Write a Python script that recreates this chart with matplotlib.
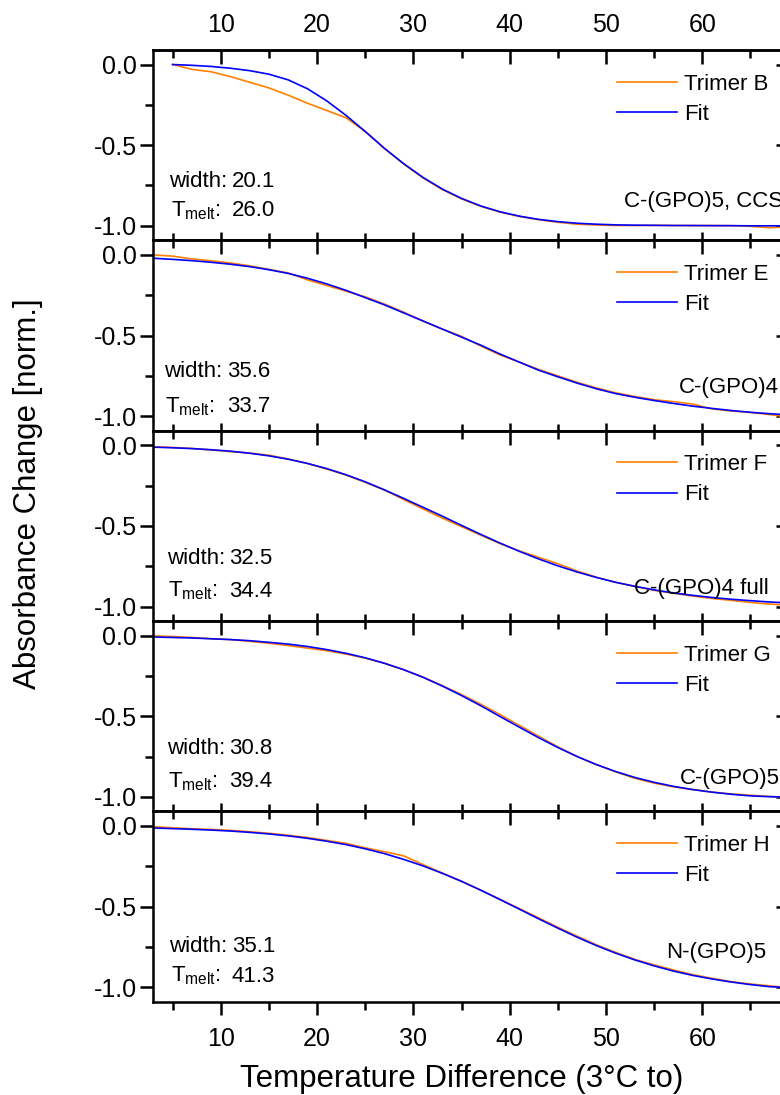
import matplotlib
matplotlib.use("Agg")
from matplotlib import pyplot as plt
from matplotlib.ticker import MultipleLocator, FixedLocator, NullFormatter

plt.rcParams['font.family'] = ['Liberation Sans', 'DejaVu Sans']
plt.rcParams['mathtext.default'] = 'regular'

# temperature grid the curves were read on (3, 5, ..., 69)
temp = list(range(3, 70, 2))

# Trimer B starts at 5
trimer_b = [0.0, -0.03, -0.045, -0.075, -0.11, -0.145, -0.19, -0.24, -0.285, -0.33,
            -0.415, -0.52, -0.617, -0.703, -0.775, -0.833, -0.879, -0.915, -0.942, -0.962,
            -0.978, -0.99, -0.995, -0.998, -0.998, -0.997, -0.998, -0.999, -0.998, -0.999,
            -1.003, -1.012, -1.005]
fit_b = [0.0, -0.005, -0.012, -0.023, -0.038, -0.06, -0.095, -0.15, -0.225, -0.315,
         -0.415, -0.52, -0.615, -0.70, -0.772, -0.83, -0.877, -0.913, -0.94, -0.96,
         -0.974, -0.984, -0.99, -0.994, -0.996, -0.997, -0.998, -0.998, -0.999, -0.999,
         -1.0, -1.0, -1.0]

trimer_e = [0.0, -0.008, -0.025, -0.037, -0.05, -0.068, -0.09, -0.112, -0.155, -0.19,
            -0.225, -0.26, -0.305, -0.355, -0.41, -0.46, -0.505, -0.565, -0.62, -0.665,
            -0.71, -0.75, -0.79, -0.825, -0.855, -0.878, -0.898, -0.91, -0.925, -0.955,
            -0.968, -0.977, -0.99, -1.006]
fit_e = [-0.021, -0.028, -0.036, -0.046, -0.058, -0.073, -0.092, -0.115, -0.145, -0.18,
         -0.22, -0.265, -0.31, -0.36, -0.41, -0.46, -0.51, -0.56, -0.615, -0.665,
         -0.715, -0.756, -0.795, -0.83, -0.86, -0.883, -0.903, -0.921, -0.938, -0.952,
         -0.965, -0.976, -0.985, -0.992]

trimer_f = [-0.01, -0.014, -0.02, -0.03, -0.04, -0.048, -0.062, -0.085, -0.113, -0.148,
            -0.185, -0.23, -0.278, -0.337, -0.395, -0.452, -0.505, -0.558, -0.61, -0.655,
            -0.695, -0.735, -0.78, -0.818, -0.85, -0.875, -0.9, -0.918, -0.935, -0.95,
            -0.962, -0.975, -0.985, -0.992]
fit_f = [-0.012, -0.016, -0.021, -0.028, -0.037, -0.05, -0.066, -0.087, -0.113, -0.145,
         -0.183, -0.227, -0.277, -0.33, -0.385, -0.44, -0.497, -0.553, -0.607, -0.658,
         -0.705, -0.748, -0.786, -0.82, -0.85, -0.875, -0.897, -0.916, -0.931, -0.944,
         -0.955, -0.964, -0.972, -0.978]

trimer_g = [-0.002, -0.006, -0.012, -0.02, -0.025, -0.036, -0.048, -0.062, -0.078, -0.094,
            -0.115, -0.14, -0.172, -0.212, -0.257, -0.31, -0.366, -0.426, -0.49, -0.557,
            -0.624, -0.69, -0.75, -0.80, -0.845, -0.885, -0.915, -0.938, -0.955, -0.97,
            -0.982, -0.99, -0.998, -1.003]
fit_g = [-0.009, -0.012, -0.015, -0.02, -0.025, -0.032, -0.042, -0.053, -0.068, -0.087,
         -0.11, -0.138, -0.172, -0.212, -0.259, -0.313, -0.372, -0.435, -0.502, -0.568,
         -0.633, -0.694, -0.75, -0.80, -0.843, -0.88, -0.91, -0.935, -0.955, -0.971,
         -0.984, -0.994, -0.999, -1.002]

trimer_h = [-0.005, -0.012, -0.018, -0.022, -0.028, -0.036, -0.046, -0.058, -0.072, -0.09,
            -0.108, -0.136, -0.16, -0.186, -0.24, -0.292, -0.343, -0.398, -0.455, -0.513,
            -0.57, -0.628, -0.684, -0.737, -0.784, -0.828, -0.862, -0.893, -0.922, -0.945,
            -0.966, -0.98, -0.992, -1.003]
fit_h = [-0.013, -0.017, -0.021, -0.026, -0.032, -0.04, -0.05, -0.062, -0.077, -0.095,
         -0.116, -0.142, -0.172, -0.208, -0.248, -0.294, -0.344, -0.399, -0.457, -0.516,
         -0.576, -0.634, -0.69, -0.742, -0.789, -0.831, -0.868, -0.9, -0.927, -0.949,
         -0.968, -0.984, -0.997, -1.003]

names = ["Trimer B", "Trimer E", "Trimer F", "Trimer G", "Trimer H"]
constructs = ["C-(GPO)5, CCS", "C-(GPO)4", "C-(GPO)4 full", "C-(GPO)5", "N-(GPO)5"]
widths = ["20.1", "35.6", "32.5", "30.8", "35.1"]
tmelts = ["26.0", "33.7", "34.4", "39.4", "41.3"]

data = [trimer_b, trimer_e, trimer_f, trimer_g, trimer_h]
fits = [fit_b, fit_e, fit_f, fit_g, fit_h]

# layout in pixels (figure 780 x 1095)
W, H = 780, 1095
ax_l, ax_r = 153.3, 789.0
top, bot = 50.0, 1001.7
ph = (bot - top) / 5

# per panel: construct label x / baseline, annotation x, number x, baselines
lab_x = [624, 679, 634, 680, 666]
lab_y = [156.7, 153, 163, 163, 147]
ann_x = [169.4, 164, 167, 167, 169.4]
num_x = [232, 227, 229, 229, 232]
wid_y = [136.7, 137, 133, 133, 141]
tm_y = [166.5, 172, 166, 166, 170.3]

orange = '#FF8000'
blue = '#0000FF'
lw_ax = 1.8

fig = plt.figure(figsize=(W / 100, H / 100), dpi=100)


def fx(px):
    return (px - ax_l) / (ax_r - ax_l)


def fy(rel):
    return 1 - rel / ph


for i in range(5):
    y0 = top + i * ph
    ax = fig.add_axes([ax_l / W, 1 - (y0 + ph) / H, (ax_r - ax_l) / W, ph / H])
    xs = temp[1:] if i == 0 else temp
    l1, = ax.plot(xs, data[i], color=orange, lw=1.2)
    l2, = ax.plot(xs, fits[i], color=blue, lw=1.2)
    ax.set_xlim(3, 69)
    ax.set_ylim(-1.09, 0.09)

    ax.set_yticks([0, -0.5, -1.0], labels=["0.0", "-0.5", "-1.0"])
    ax.yaxis.set_minor_locator(FixedLocator([-0.25, -0.75]))
    ax.set_xticks([10, 20, 30, 40, 50, 60])
    ax.xaxis.set_minor_locator(MultipleLocator(5))
    for s in ax.spines.values():
        s.set_linewidth(lw_ax)

    ax.tick_params(axis='y', which='major', direction='out', length=9.4, width=lw_ax,
                   labelsize=18, pad=2.5, right=False)
    ax.tick_params(axis='y', which='minor', direction='out', length=5.8, width=lw_ax, right=False)
    if i < 4:
        ax.tick_params(axis='x', which='major', direction='in', length=5.8, width=lw_ax,
                       top=False, labelbottom=False)
        ax.tick_params(axis='x', which='minor', direction='in', length=5.0, width=lw_ax, top=False)
    else:
        ax.tick_params(axis='x', which='major', direction='out', length=9.4, width=lw_ax,
                       top=False, labelsize=18, pad=8.6)
        ax.tick_params(axis='x', which='minor', direction='out', length=5.8, width=lw_ax, top=False)

    sec = ax.secondary_xaxis('top')
    sec.set_xticks([10, 20, 30, 40, 50, 60])
    sec.xaxis.set_minor_locator(MultipleLocator(5))
    sec.spines['top'].set_linewidth(lw_ax)
    sec.tick_params(which='major', direction='in', length=10, width=lw_ax, labelsize=18, pad=9.3)
    sec.tick_params(which='minor', direction='in', length=5.8, width=lw_ax)
    if i > 0:
        sec.xaxis.set_major_formatter(NullFormatter())

    secr = ax.secondary_yaxis('right')
    secr.set_yticks([0, -0.5, -1.0])
    secr.yaxis.set_minor_locator(FixedLocator([-0.25, -0.75]))
    secr.yaxis.set_major_formatter(NullFormatter())
    secr.spines['right'].set_linewidth(lw_ax)
    secr.tick_params(which='major', direction='in', length=9.4, width=lw_ax)
    secr.tick_params(which='minor', direction='in', length=5.8, width=lw_ax)

    ax.legend([l1, l2], [names[i], "Fit"], loc='upper left', bbox_to_anchor=(fx(617), fy(23.5)),
              frameon=False, fontsize=16, handlelength=2.7, handletextpad=0.32,
              labelspacing=0.41, borderpad=0, borderaxespad=0)

    ax.text(fx(lab_x[i]), fy(lab_y[i]), constructs[i], transform=ax.transAxes,
            fontsize=16, va='baseline', ha='left')
    ax.text(fx(ann_x[i]), fy(wid_y[i]), "width:", transform=ax.transAxes,
            fontsize=16, va='baseline')
    ax.text(fx(num_x[i]), fy(wid_y[i]), widths[i], transform=ax.transAxes,
            fontsize=16, va='baseline')
    ax.text(fx(ann_x[i] + 1.3), fy(tm_y[i]), r"T$_{melt}$:", transform=ax.transAxes,
            fontsize=16, va='baseline')
    ax.text(fx(num_x[i]), fy(tm_y[i]), tmelts[i], transform=ax.transAxes,
            fontsize=16, va='baseline')

fig.text(461.5 / W, 1 - 1086.7 / H, "Temperature Difference (3°C to)", fontsize=22.5,
         ha='center', va='baseline')
fig.text(28 / W, 1 - 494 / H, "Absorbance Change [norm.]", fontsize=22.5,
         rotation=90, ha='center', va='center')

fig.savefig("out.png", dpi=100)
